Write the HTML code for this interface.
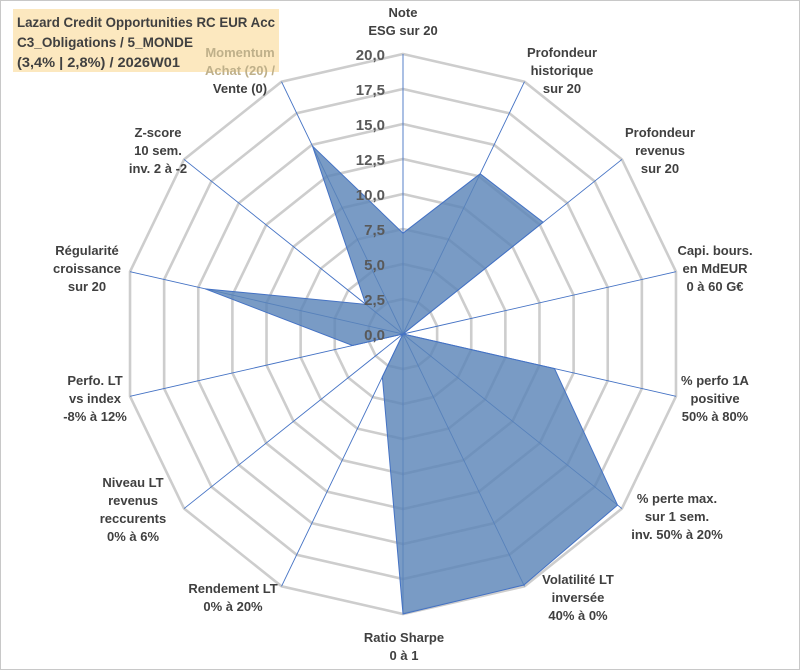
<!DOCTYPE html>
<html><head><meta charset="utf-8"><style>
body{margin:0;background:#fff}
#wrap{position:relative;width:801px;height:671px;overflow:hidden}
svg text{font-family:"Liberation Sans",Arial,sans-serif;font-weight:bold}
</style></head><body>
<div id="wrap">
<svg id="chart" width="801" height="671">
<rect x="0.5" y="0.5" width="799" height="669" fill="#fff" stroke="#c8c8c8"/>
<rect x="13" y="9" width="266" height="63" fill="#fce8bf"/>
<text x="17" y="27" font-size="14" fill="#404040" textLength="258" lengthAdjust="spacingAndGlyphs">Lazard Credit Opportunities RC EUR Acc</text>
<text x="17" y="47" font-size="14" fill="#404040" textLength="176" lengthAdjust="spacingAndGlyphs">C3_Obligations / 5_MONDE</text>
<text x="17" y="67" font-size="14" fill="#404040" textLength="163" lengthAdjust="spacingAndGlyphs">(3,4% | 2,8%) / 2026W01</text>
<g id="grid"></g><g id="spokes"></g><g id="series"></g><g id="ticks"></g><g id="labels"></g>
</svg>
</div>
<script>
const categories=[
["Note","ESG sur 20"],
["Profondeur","historique","sur 20"],
["Profondeur","revenus","sur 20"],
["Capi. bours.","en MdEUR","0 à 60 G€"],
["% perfo 1A","positive","50% à 80%"],
["% perte max.","sur 1 sem.","inv. 50% à 20%"],
["Volatilité LT","inversée","40% à 0%"],
["Ratio Sharpe","0 à 1"],
["Rendement LT","0% à 20%"],
["Niveau LT","revenus","reccurents","0% à 6%"],
["Perfo. LT","vs index","-8% à 12%"],
["Régularité","croissance","sur 20"],
["Z-score","10 sem.","inv. 2 à -2"],
["Momentum","Achat (20) /","Vente (0)"]];
const values=[7.2,12.7,12.8,0,11.1,19.6,19.9,20,3.4,0,3.7,14.5,3.4,14.9];
const tickLabels=["0,0","2,5","5,0","7,5","10,0","12,5","15,0","17,5","20,0"];
const maxVal=20;
const cx=403,cy=334,R=280,N=categories.length;
const labelPos=[[403,21],[562,70],[660,150],[715,268],[715,398],[677,516],[578,597],[404,646],[233,597],[133,509],[95,398],[87,268],[158,150],[240,70]];
const ns="http://www.w3.org/2000/svg";
function ang(i){return -Math.PI/2+i*2*Math.PI/N;}
function px(i,v){return [cx+Math.cos(ang(i))*R*v/maxVal, cy+Math.sin(ang(i))*R*v/maxVal];}
function mk(t,a,p){const e=document.createElementNS(ns,t);for(const k in a)e.setAttribute(k,a[k]);p.appendChild(e);return e;}
const grid=document.getElementById('grid');
for(let k=1;k<tickLabels.length;k++){
 const v=k*maxVal/(tickLabels.length-1);
 const pts=[];for(let i=0;i<N;i++)pts.push(px(i,v).join(','));
 const p=mk('polygon',{points:pts.join(' '),fill:'none',stroke:'#cdcdcd','stroke-width':2.6},grid);
 
 
}
const sp=document.getElementById('spokes');
for(let i=0;i<N;i++){const e=px(i,maxVal);
 const l=mk('line',{x1:cx,y1:cy,x2:e[0],y2:e[1],stroke:'#4472c4','stroke-width':0.9},sp);
 
 
}
const ser=document.getElementById('series');
const sp2=values.map((v,i)=>px(i,v).join(',')).join(' ');
const poly=mk('polygon',{points:sp2,fill:'#5b85b8','fill-opacity':0.82,stroke:'#4472c4','stroke-width':1},ser);


const tk=document.getElementById('ticks');
tickLabels.forEach((t,k)=>{const y=cy-R*k/(tickLabels.length-1);
 const e=mk('text',{x:385,y:y+6,'text-anchor':'end','font-size':15,fill:'#595959'},tk);e.textContent=t;
 
 
});
const lb=document.getElementById('labels');
const lh=18;
categories.forEach((lines,i)=>{
 const x=labelPos[i][0],y=labelPos[i][1];
 const n=lines.length;
 lines.forEach((s,j)=>{
  const e=mk('text',{x:x,y:y+(j-(n-1)/2)*lh+5,'text-anchor':'middle','font-size':13,fill:(i===13&&j<2)?'#bfb08a':'#404040'},lb);
  e.textContent=s;
  
  
 });
});
</script>
</body></html>
